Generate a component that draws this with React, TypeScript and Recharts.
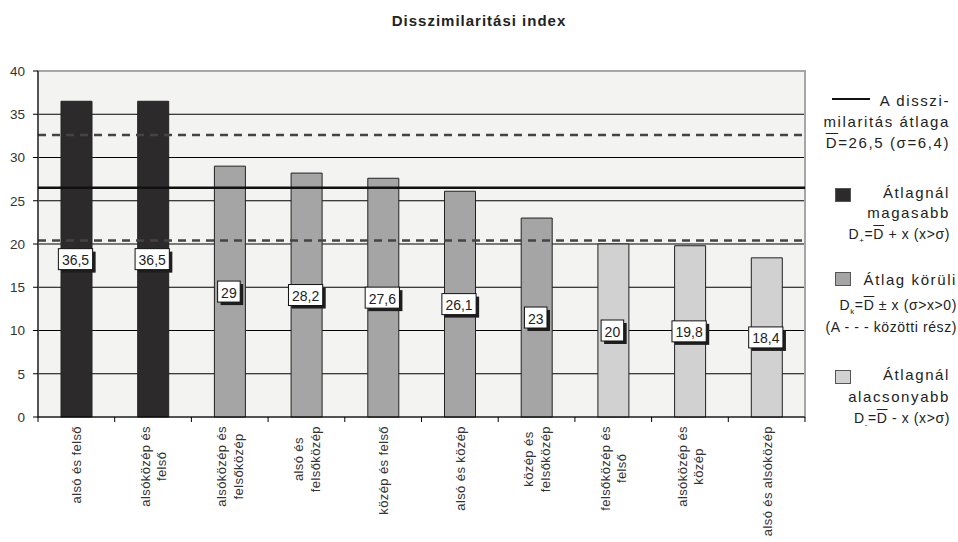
import React from 'react';
import {
  BarChart,
  Bar,
  XAxis,
  YAxis,
  CartesianGrid,
  ReferenceLine,
  ReferenceArea,
  Cell,
  LabelList,
} from 'recharts';

// categories (\n = line break in the axis label)
const categories = [
  'alsó és felső',
  'alsóközép és\nfelső',
  'alsóközép és\nfelsőközép',
  'alsó és\nfelsőközép',
  'közép és felső',
  'alsó és közép',
  'közép és\nfelsőközép',
  'felsőközép és\nfelső',
  'alsóközép és\nközép',
  'alsó és alsóközép',
];
const values = [36.5, 36.5, 29, 28.2, 27.6, 26.1, 23, 20, 19.8, 18.4];
const groups = ['high', 'high', 'mid', 'mid', 'mid', 'mid', 'mid', 'low', 'low', 'low'];
const yTicks = [0, 5, 10, 15, 20, 25, 30, 35, 40];
const mean = 26.5;
const bandLow = 20.4;
const bandHigh = 32.6;

const COLORS: Record<string, string> = { high: '#2d2a2b', mid: '#a5a5a5', low: '#d1d1d1' };
const FONT = '"Liberation Sans", Arial, sans-serif';

const data = categories.map((name, i) => ({ name, value: values[i], group: groups[i] }));

const PLOT_W = 767;
const BAND = PLOT_W / categories.length;

let ctx: CanvasRenderingContext2D | null = null;
const measure = (s: string, font: string, spacing = 0) => {
  if (!ctx) ctx = document.createElement('canvas').getContext('2d');
  if (!ctx) return s.length * 7;
  ctx.font = font;
  return ctx.measureText(s).width + spacing * s.length;
};

const XTick = (props: any) => {
  const { x, y, payload, index } = props;
  const lines: string[] = String(payload.value).split('\n');
  const axisY = y - 5;
  const top = axisY + 9;
  const maxLen = Math.max(...lines.map((l) => measure(l, `13px ${FONT}`, 0.4)));
  const cy = top + maxLen / 2;
  return (
    <g>
      <line x1={x - BAND / 2} x2={x - BAND / 2} y1={axisY} y2={axisY + 5} stroke="#000" />
      {index === categories.length - 1 && (
        <line x1={x + BAND / 2} x2={x + BAND / 2} y1={axisY} y2={axisY + 5} stroke="#000" />
      )}
      {lines.map((l, i) => {
        const cx = x + (i - (lines.length - 1) / 2) * 16.5 + 0.5;
        return (
          <text
            key={i}
            x={cx}
            y={cy}
            transform={`rotate(-90, ${cx}, ${cy})`}
            textAnchor="middle"
            dominantBaseline="central"
            fontSize={13}
            letterSpacing={0.4}
            fill="#333"
            fontFamily={FONT}
          >
            {l}
          </text>
        );
      })}
    </g>
  );
};

const ValueLabel = (props: any) => {
  const x = Number(props.x);
  const y = Number(props.y);
  const width = Number(props.width);
  const height = Number(props.height);
  const text = String(props.value).replace('.', ',');
  const w = measure(text, `14px ${FONT}`) + 7;
  const h = 21;
  const cx = x + width / 2 - 1;
  const cy = y + height / 2;
  return (
    <g>
      <rect x={cx - w / 2 + 3} y={cy - h / 2 + 3} width={w} height={h} fill="#1e1e1e" />
      <rect x={cx - w / 2} y={cy - h / 2} width={w} height={h} fill="#fff" stroke="#111" strokeWidth={1} />
      <text x={cx} y={cy + 1} textAnchor="middle" dominantBaseline="central" fontSize={14} fill="#222" fontFamily={FONT}>
        {text}
      </text>
    </g>
  );
};

const Swatch = ({ color }: { color: string }) => (
  <span
    style={{
      position: 'absolute',
      left: 45,
      width: 16,
      height: 14,
      background: color,
      border: '1px solid #555',
      boxSizing: 'border-box',
    }}
  />
);

const Over = ({ children }: { children: React.ReactNode }) => (
  <span style={{ textDecoration: 'overline' }}>{children}</span>
);

const row = (top: number, right: number, size: number, spacing: number): React.CSSProperties => ({
  position: 'absolute',
  top: top - 10,
  right,
  height: 20,
  lineHeight: '20px',
  fontSize: size,
  letterSpacing: spacing,
  whiteSpace: 'nowrap',
  textAlign: 'right',
});

const LegendBox = () => (
  <div style={{ position: 'absolute', left: 790, top: 0, width: 168, height: 542, fontFamily: FONT, color: '#222' }}>
    <div style={row(101, 8, 15, 1.6)}>A disszi-</div>
    <div style={{ position: 'absolute', left: 42, top: 98, width: 38, height: 2, background: '#111' }} />
    <div style={row(122, 8, 15, 1.6)}>milaritás átlaga</div>
    <div style={row(143, 8, 15, 1.6)}>
      <Over>D</Over>=26,5 (σ=6,4)
    </div>

    <div style={{ position: 'absolute', top: 188, left: 0, width: 168 }}>
      <Swatch color={COLORS.high} />
    </div>
    <div style={row(193, 8, 15, 1.6)}>Átlagnál</div>
    <div style={row(213, 8, 15, 1.6)}>magasabb</div>
    <div style={row(234, 8, 14, 0.6)}>
      D<sub style={{ fontSize: 8 }}>+</sub>=<Over>D</Over> + x (x&gt;σ)
    </div>

    <div style={{ position: 'absolute', top: 272, left: 0, width: 168 }}>
      <Swatch color={COLORS.mid} />
    </div>
    <div style={row(280, 1, 15, 1.6)}>Átlag körüli</div>
    <div style={row(305, 1, 14, 0.6)}>
      D<sub style={{ fontSize: 8 }}>k</sub>=<Over>D</Over> ± x (σ&gt;x&gt;0)
    </div>
    <div style={row(327, 1, 14, 0.6)}>(A - - - közötti rész)</div>

    <div style={{ position: 'absolute', top: 370, left: 0, width: 168 }}>
      <Swatch color={COLORS.low} />
    </div>
    <div style={row(375, 8, 15, 1.6)}>Átlagnál</div>
    <div style={row(397, 8, 15, 1.6)}>alacsonyabb</div>
    <div style={row(418, 8, 14, 0.6)}>
      D<sub style={{ fontSize: 8 }}>-</sub>=<Over>D</Over> - x (x&gt;σ)
    </div>
  </div>
);

export default function App() {
  return (
    <div style={{ position: 'absolute', left: 0, top: 0, width: 958, height: 542, background: '#fff' }}>
      <div
        style={{
          position: 'absolute',
          top: 12,
          left: 0,
          width: 958,
          textAlign: 'center',
          fontFamily: FONT,
          fontWeight: 'bold',
          fontSize: 15,
          letterSpacing: 1,
          color: '#222',
        }}
      >
        Disszimilaritási index
      </div>
      <BarChart
        width={958}
        height={542}
        data={data}
        margin={{ top: 71, right: 153, bottom: 0, left: 0 }}
        barCategoryGap={0}
      >
        <CartesianGrid vertical={false} stroke="#000" fill="#f3f4f2" fillOpacity={1} />
        <ReferenceArea y1={0} y2={40} fill="none" stroke="#a6a6a6" strokeWidth={2} ifOverflow="visible" />
        <XAxis
          dataKey="name"
          interval={0}
          height={125}
          tickLine={false}
          tickSize={5}
          tickMargin={0}
          axisLine={{ stroke: '#000' }}
          tick={<XTick />}
        />
        <YAxis
          width={38}
          domain={[0, 40]}
          ticks={yTicks}
          interval={0}
          tickSize={5}
          tickMargin={8}
          axisLine={{ stroke: '#000' }}
          tickLine={{ stroke: '#000' }}
          tick={{ fill: '#333', fontSize: 13.5, fontFamily: FONT }}
        />
        <Bar dataKey="value" barSize={31} stroke="#222" strokeWidth={1} isAnimationActive={false}>
          {data.map((d, i) => (
            <Cell key={`c-${i}`} fill={COLORS[d.group]} />
          ))}
          <LabelList dataKey="value" content={<ValueLabel />} />
        </Bar>
        <ReferenceLine y={bandHigh} stroke="#444" strokeWidth={2.5} strokeDasharray="8 6" />
        <ReferenceLine y={bandLow} stroke="#444" strokeWidth={2.5} strokeDasharray="8 6" />
        <ReferenceLine y={mean} stroke="#111" strokeWidth={2.5} />
      </BarChart>
      <LegendBox />
    </div>
  );
}
